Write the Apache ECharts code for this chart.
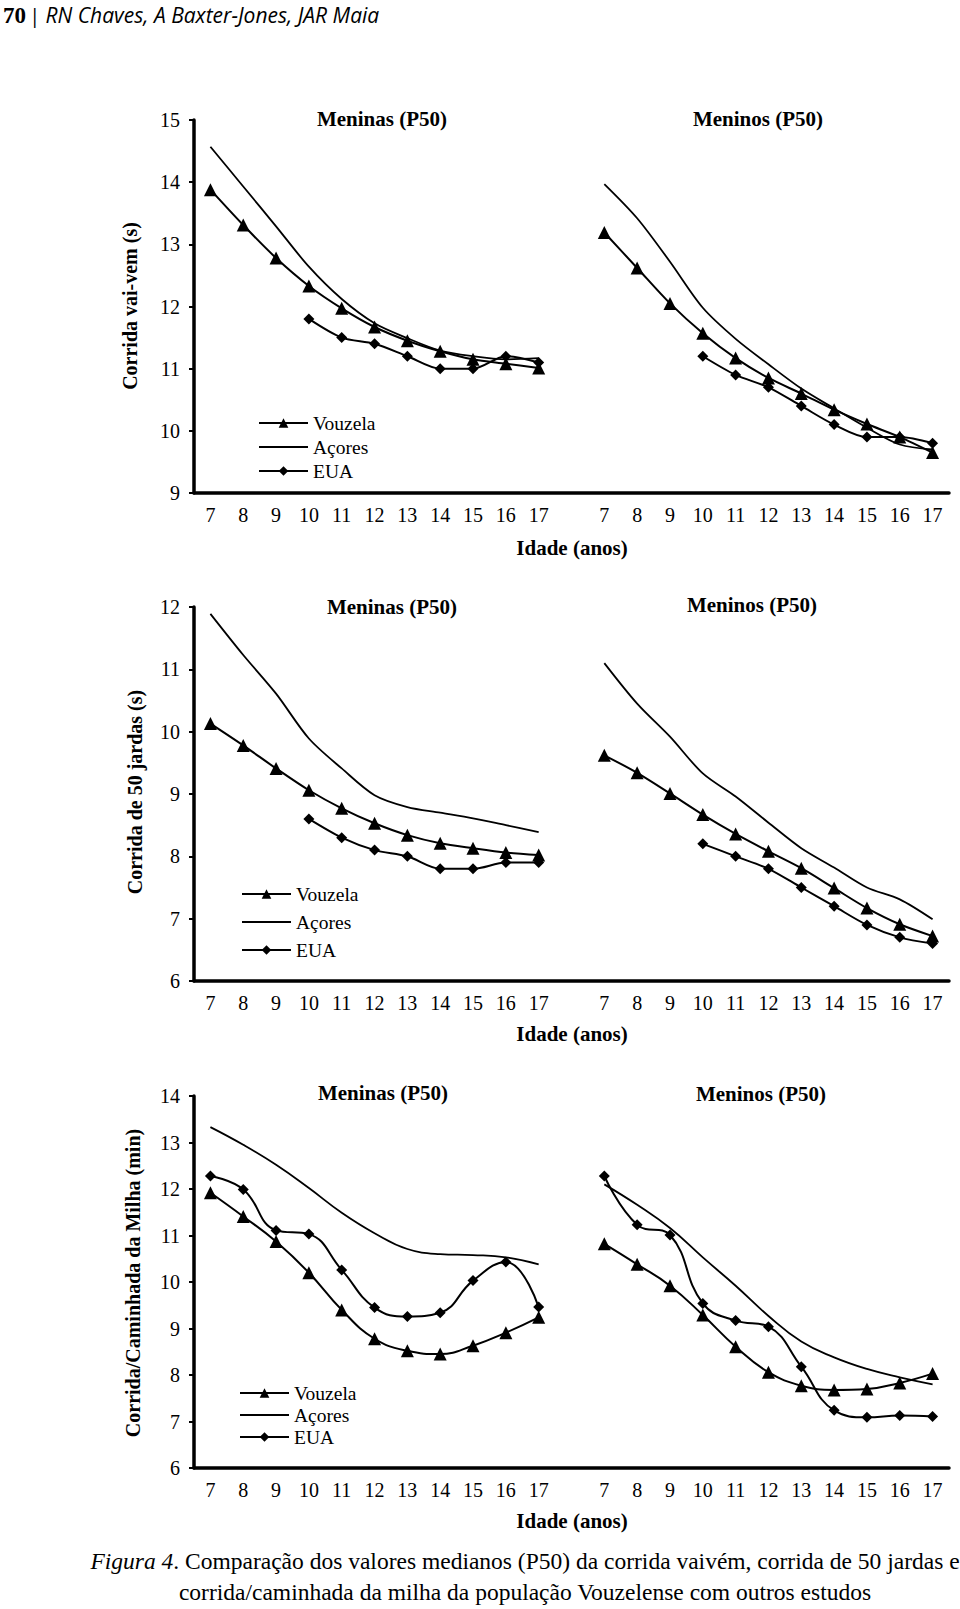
<!DOCTYPE html>
<html>
<head>
<meta charset="utf-8">
<script src="https://cdn.jsdelivr.net/npm/echarts@6/dist/echarts.min.js"></script>
<style>
html,body{margin:0;padding:0;background:#fff;}
#c{width:960px;height:1609px;}
</style>
</head>
<body>
<div id="c"></div>
<script>
// ---- data ----
const ages = ['7','8','9','10','11','12','13','14','15','16','17'];
const categories = [...ages, '', ...ages];

const vaivemGirlsVouzela = [13.88,13.31,12.78,12.33,11.97,11.67,11.45,11.28,11.15,11.08,11.01];
const vaivemGirlsAcores  = [14.57,13.93,13.29,12.64,12.12,11.73,11.49,11.29,11.20,11.15,11.17];
const vaivemGirlsEUA     = [null,null,null,11.8,11.5,11.4,11.2,11.0,11.0,11.2,11.1];
const vaivemBoysVouzela  = [13.19,12.62,12.05,11.57,11.17,10.85,10.60,10.34,10.11,9.90,9.65];
const vaivemBoysAcores   = [13.97,13.42,12.72,11.98,11.48,11.07,10.68,10.36,10.05,9.78,9.70];
const vaivemBoysEUA      = [null,null,null,11.2,10.9,10.7,10.4,10.1,9.9,9.9,9.8];

const jardasGirlsVouzela = [10.13,9.78,9.41,9.06,8.77,8.53,8.34,8.21,8.13,8.06,8.02];
const jardasGirlsAcores  = [11.89,11.23,10.61,9.89,9.41,8.98,8.79,8.70,8.61,8.50,8.39];
const jardasGirlsEUA     = [null,null,null,8.6,8.3,8.1,8.0,7.8,7.8,7.9,7.9];
const jardasBoysVouzela  = [9.62,9.34,9.01,8.67,8.36,8.08,7.81,7.49,7.17,6.91,6.72];
const jardasBoysAcores   = [11.10,10.45,9.92,9.33,8.96,8.54,8.13,7.82,7.50,7.31,6.99];
const jardasBoysEUA      = [null,null,null,8.2,8.0,7.8,7.5,7.2,6.9,6.7,6.6];

const milhaGirlsVouzela  = [11.92,11.41,10.87,10.20,9.40,8.78,8.52,8.45,8.63,8.91,9.24];
const milhaGirlsAcores   = [13.33,12.95,12.52,12.02,11.49,11.05,10.71,10.60,10.58,10.53,10.38];
const milhaGirlsEUA      = [12.28,11.99,11.11,11.03,10.26,9.45,9.26,9.34,10.03,10.43,9.46];
const milhaBoysVouzela   = [10.82,10.38,9.92,9.29,8.61,8.06,7.77,7.68,7.70,7.83,8.03];
const milhaBoysAcores    = [12.10,11.66,11.16,10.53,9.92,9.27,8.72,8.38,8.13,7.95,7.80];
const milhaBoysEUA       = [12.28,11.23,11.01,9.54,9.17,9.04,8.18,7.24,7.09,7.13,7.11];

const seriesNames = ['Vouzela','Açores','EUA'];
const yNames = ['Corrida vai-vem (s)','Corrida de 50 jardas (s)','Corrida/Caminhada da Milha (min)'];
const yRanges = [[9,15],[6,12],[6,14]];
const panelTitles = ['Meninas (P50)','Meninos (P50)'];
const xName = 'Idade (anos)';
const headerNum = '70';
const headerText = 'RN Chaves, A Baxter-Jones, JAR Maia';
const captionItalic = 'Figura 4';
const captionLine1 = '. Comparação dos valores medianos (P50) da corrida vaivém, corrida de 50 jardas e';
const captionLine2 = 'corrida/caminhada da milha da população Vouzelense com outros estudos';

// ---- layout ----
const join = (g, b) => [...g, null, ...b];
const panels = [
  [join(vaivemGirlsVouzela, vaivemBoysVouzela), join(vaivemGirlsAcores, vaivemBoysAcores), join(vaivemGirlsEUA, vaivemBoysEUA)],
  [join(jardasGirlsVouzela, jardasBoysVouzela), join(jardasGirlsAcores, jardasBoysAcores), join(jardasGirlsEUA, jardasBoysEUA)],
  [join(milhaGirlsVouzela, milhaBoysVouzela), join(milhaGirlsAcores, milhaBoysAcores), join(milhaGirlsEUA, milhaBoysEUA)]
];
const gridTops = [120, 607, 1096];
const gridHeights = [373, 374, 372];
const gridLeft = 194, gridWidth = 755;
const legendPos = [[258, 413, 4], [241, 884, 8], [239, 1383, 2]];
const titlePos = [[[382,119],[758,119]], [[392,607],[752,605]], [[383,1093],[761,1094]]];
const yNamePos = [[130,306],[135,792],[133,1283]];
const xNameY = [548, 1034, 1521];
const smoothVals = [0.3, 0.3, 0.45];

const SERIF = '"Liberation Serif", "Times New Roman", serif';
const grids = [], xAxes = [], yAxes = [], series = [], legends = [], graphics = [];

for (let p = 0; p < 3; p++) {
  grids.push({left: gridLeft, top: gridTops[p], width: gridWidth, height: gridHeights[p]});
  xAxes.push({
    type: 'category', gridIndex: p, data: categories, boundaryGap: true,
    axisLine: {lineStyle: {color: '#000', width: 3.5}},
    axisTick: {alignWithLabel: true, interval: 0, length: 5, lineStyle: {color: '#000', width: 2}},
    axisLabel: {interval: 0, color: '#000', fontFamily: SERIF, fontSize: 20, margin: 12},
    splitLine: {show: false}
  });
  yAxes.push({
    type: 'value', gridIndex: p, min: yRanges[p][0], max: yRanges[p][1], interval: 1,
    axisLine: {show: true, lineStyle: {color: '#000', width: 3.5}},
    axisTick: {show: true, length: 5, lineStyle: {color: '#000', width: 2}},
    axisLabel: {color: '#000', fontFamily: SERIF, fontSize: 20, margin: 14},
    splitLine: {show: false}
  });
  const d = panels[p];
  series.push({
    name: seriesNames[0], type: 'line', xAxisIndex: p, yAxisIndex: p, data: d[0],
    smooth: smoothVals[p], symbol: 'triangle', symbolSize: 13,
    lineStyle: {color: '#000', width: 2}, itemStyle: {color: '#000'}, z: 3
  });
  series.push({
    name: seriesNames[1], type: 'line', xAxisIndex: p, yAxisIndex: p, data: d[1],
    smooth: smoothVals[p], symbol: 'circle', symbolSize: 0, showSymbol: false,
    lineStyle: {color: '#000', width: 1.8}, itemStyle: {color: '#000', opacity: 0}, z: 2
  });
  series.push({
    name: seriesNames[2], type: 'line', xAxisIndex: p, yAxisIndex: p, data: d[2],
    smooth: smoothVals[p], symbol: 'diamond', symbolSize: 11,
    lineStyle: {color: '#000', width: 2}, itemStyle: {color: '#000'}, z: 4
  });
  legends.push({
    data: [
      {name: seriesNames[0]},
      {name: seriesNames[1], itemStyle: {opacity: 0}},
      {name: seriesNames[2]}
    ],
    orient: 'vertical', left: legendPos[p][0], top: legendPos[p][1],
    itemWidth: 49, itemHeight: 12, itemGap: legendPos[p][2], padding: 0,
    selectedMode: false, inactiveColor: '#000',
    textStyle: {color: '#000', fontFamily: SERIF, fontSize: 19.5, padding: [0, 0, 0, 0]}
  });
  for (let k = 0; k < 2; k++) {
    graphics.push({
      type: 'text', x: titlePos[p][k][0], y: titlePos[p][k][1],
      style: {text: panelTitles[k], fill: '#000', font: 'bold 21px ' + SERIF, textAlign: 'center', textVerticalAlign: 'middle'}
    });
  }
  graphics.push({
    type: 'text', x: yNamePos[p][0], y: yNamePos[p][1], rotation: Math.PI / 2,
    style: {text: yNames[p], fill: '#000', font: 'bold 20px ' + SERIF, textAlign: 'center', textVerticalAlign: 'middle'}
  });
  graphics.push({
    type: 'text', x: 572, y: xNameY[p],
    style: {text: xName, fill: '#000', font: 'bold 21px ' + SERIF, textAlign: 'center', textVerticalAlign: 'middle'}
  });
}

// header
graphics.push({
  type: 'text', x: 3, y: 15,
  style: {
    text: '{n|' + headerNum + '} {s|| }{t|' + headerText + '}',
    textVerticalAlign: 'middle',
    rich: {
      n: {font: 'bold 23px ' + SERIF, fill: '#000'},
      s: {font: '20px "Open Sans", sans-serif', fill: '#000'},
      t: {font: 'italic 21px "Open Sans", sans-serif', fill: '#000'}
    }
  }
});
// caption
graphics.push({
  type: 'text', x: 525, y: 1561,
  style: {
    text: '{i|' + captionItalic + '}{r|' + captionLine1 + '}',
    textAlign: 'center', textVerticalAlign: 'middle',
    rich: {
      i: {font: 'italic 23.5px ' + SERIF, fill: '#000'},
      r: {font: '23.5px ' + SERIF, fill: '#000'}
    }
  }
});
graphics.push({
  type: 'text', x: 525, y: 1592,
  style: {text: captionLine2, font: '23.5px ' + SERIF, fill: '#000', textAlign: 'center', textVerticalAlign: 'middle'}
});

const chart = echarts.init(document.getElementById('c'), null, {renderer: 'svg', width: 960, height: 1609});
chart.setOption({
  animation: false,
  backgroundColor: '#fff',
  grid: grids, xAxis: xAxes, yAxis: yAxes, series: series, legend: legends,
  graphic: graphics
});
</script>
</body>
</html>
